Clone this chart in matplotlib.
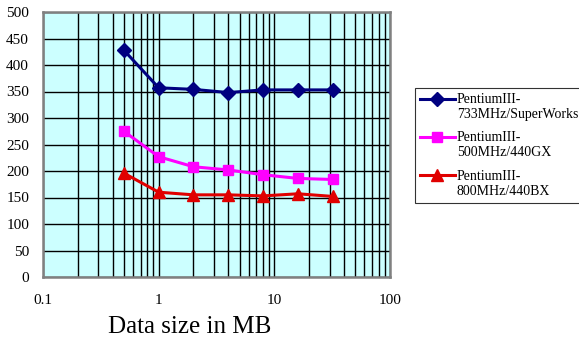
import numpy as np
import matplotlib
matplotlib.use('Agg')
from matplotlib import pyplot as plt
from matplotlib.ticker import LogLocator, NullFormatter, FixedLocator
from matplotlib.legend_handler import HandlerLine2D

plt.rcParams['font.family'] = ['Liberation Serif', 'DejaVu Serif']

# data
sizes = [0.5, 1, 2, 4, 8, 16, 32]
superworks = [428, 357, 354, 348, 353, 353, 353]
gx440 = [275, 227, 208, 202, 193, 186, 184]
bx440 = [196, 160, 155, 155, 153, 157, 152]
names = ['PentiumIII-\n733MHz/SuperWorks', 'PentiumIII-\n500MHz/440GX', 'PentiumIII-\n800MHz/440BX']
x_ticks = [0.1, 1, 10, 100]
x_ticklabels = ['0.1', '1', '10', '100']
y_ticks = list(range(0, 501, 50))


# legend handle sits on the first text line, like excel does
class UpHandler(HandlerLine2D):
    def create_artists(self, legend, orig_handle, xdescent, ydescent, width, height, fontsize, trans):
        arts = super().create_artists(legend, orig_handle, xdescent, ydescent, width, height, fontsize, trans)
        for a in arts:
            a.set_ydata(np.asarray(a.get_ydata(), dtype=float) + 0.6 * fontsize)
        return arts


fig = plt.figure(figsize=(5.79, 3.49), dpi=100)
ax = fig.add_axes([43/579, 1-277/349, (390-43)/579, (277-12)/349])
ax.set_facecolor('#CCFFFF')

ax.set_xscale('log')
ax.set_xlim(0.1, 100)
ax.set_ylim(0, 500)
ax.xaxis.set_major_locator(FixedLocator(x_ticks))
ax.set_xticklabels(x_ticklabels)
ax.xaxis.set_minor_locator(LogLocator(base=10, subs=np.arange(2, 10)))
ax.xaxis.set_minor_formatter(NullFormatter())
ax.set_yticks(y_ticks)

ax.grid(True, which='both', axis='x', color='black', lw=1.0)
ax.grid(True, which='major', axis='y', color='black', lw=1.0)
ax.set_axisbelow(True)

ax.tick_params(axis='both', which='both', length=0, labelsize=11)
ax.tick_params(axis='x', pad=12)
ax.tick_params(axis='y', pad=10)
for s in ax.spines.values():
    s.set_color('#808080')
    s.set_linewidth(1.8)

ax.plot(sizes, superworks, color='#000080', lw=2.2, marker='D', ms=7, label=names[0], zorder=3)
ax.plot(sizes, gx440, color='#FF00FF', lw=2.2, marker='s', ms=6.5, label=names[1], zorder=3)
ax.plot(sizes, bx440, color='#E00000', lw=2.2, marker='^', ms=9, label=names[2], zorder=3)

h, l = ax.get_legend_handles_labels()
leg = fig.legend(h, l, loc='upper left', bbox_to_anchor=(415/579, 1-88/349), fontsize=10,
                 frameon=True, fancybox=False, edgecolor='black', handlelength=2.5,
                 handletextpad=0.15, labelspacing=0.75, borderpad=0.35, borderaxespad=0,
                 handler_map={l2: UpHandler() for l2 in h})
leg.get_frame().set_linewidth(0.8)

fig.text(190/579, 1-327/349, 'Data size in MB', fontsize=18, ha='center', va='center')

fig.savefig('out.png', dpi=100)
